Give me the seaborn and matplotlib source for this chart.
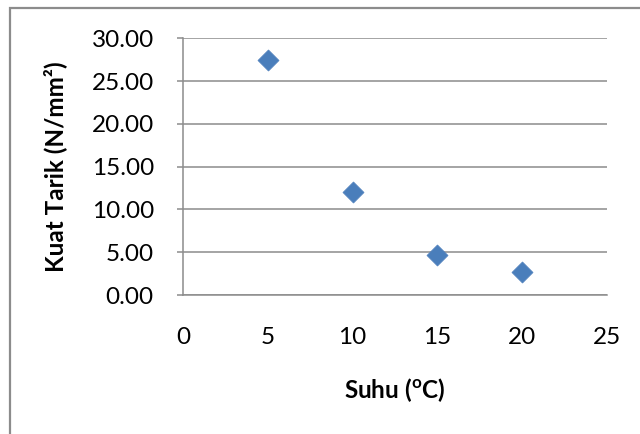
import matplotlib
matplotlib.use("Agg")
import matplotlib.pyplot as plt
import seaborn as sns
import pandas as pd
from matplotlib.patches import Rectangle
from matplotlib.ticker import FormatStrFormatter, MultipleLocator

suhu = [5, 10, 15, 20]
kuat_tarik = [27.48, 12.01, 4.70, 2.65]

df = pd.DataFrame({"suhu": suhu, "kuat": kuat_tarik})

sns.set_style("white")
plt.rcParams["font.family"] = ["Lato", "DejaVu Sans"]
plt.rcParams["mathtext.fontset"] = "custom"
plt.rcParams["mathtext.rm"] = "Lato"
plt.rcParams["mathtext.bf"] = "Lato:bold"

fig = plt.figure(figsize=(6.4, 4.34), dpi=100)
ax = fig.add_axes([0.286, 0.320, 0.662, 0.592])

sns.scatterplot(data=df, x="suhu", y="kuat", marker="D", s=115,
                color="#4A7EBB", edgecolor="#4F81BD", linewidth=0.5, ax=ax)

ax.set_xlim(0, 25)
ax.set_ylim(0, 30)
ax.xaxis.set_major_locator(MultipleLocator(5))
ax.yaxis.set_major_locator(MultipleLocator(5))
ax.yaxis.set_major_formatter(FormatStrFormatter("%.2f"))
ax.grid(axis="y", color="#8C8C8C", linewidth=1.1)
ax.set_axisbelow(True)

for side in ["top", "right"]:
    ax.spines[side].set_visible(False)
for side in ["left", "bottom"]:
    ax.spines[side].set_color("#8C8C8C")
    ax.spines[side].set_linewidth(1.1)

ax.tick_params(axis="y", left=True, length=4, width=1.1, color="#8C8C8C",
               pad=17, labelsize=17.5, labelcolor="black")
ax.tick_params(axis="x", bottom=False, length=0, pad=23, labelsize=17.5,
               labelcolor="black")

ax.set_xlabel(r"Suhu ($^{\mathbf{o}}$C)", fontsize=17.5, fontweight="bold",
              labelpad=20, color="black")
ax.set_ylabel("Kuat Tarik (N/mm²)", fontsize=17.5, fontweight="bold",
              labelpad=18, color="black")

fig.patches.append(Rectangle((10 / 640, -0.1), 1.2, 1 - 8 / 434 + 0.1,
                             transform=fig.transFigure, fill=False,
                             edgecolor="#8C8C8C", linewidth=1.6))

fig.savefig("out.png", dpi=100)
